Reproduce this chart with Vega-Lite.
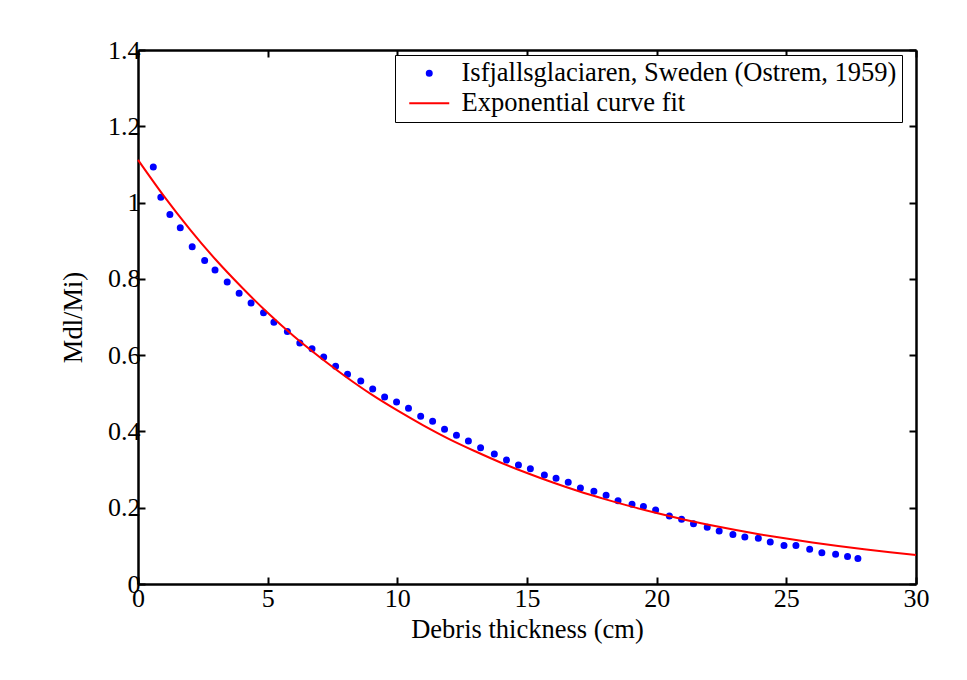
{
  "$schema": "https://vega.github.io/schema/vega-lite/v6.json",
  "autosize": "none",
  "width": 778,
  "height": 534,
  "padding": {"left": 138, "top": 50, "right": 51, "bottom": 96},
  "background": "white",
  "config": {
    "view": {"stroke": null},
    "font": "Liberation Serif",
    "style": {"guide-title": {"font": "Liberation Serif, Times New Roman, serif", "fontWeight": "normal"}, "guide-label": {"font": "Liberation Serif"}},
    "axis": {
      "labelFont": "Liberation Serif",
      "titleFont": "Liberation Serif, Times New Roman, serif",
      "labelFontSize": 26,
      "titleFontSize": 26.5,
      "titleFontWeight": "normal",
      "titleFontStyle": "normal",
      "labelColor": "black",
      "titleColor": "black",
      "domainColor": "black",
      "domainWidth": 2.5,
      "tickColor": "black",
      "tickWidth": 2,
      "tickSize": -7,
      "grid": false
    },
    "legend": {"labelFont": "Liberation Serif"}
  },
  "datasets": {
    "obs": [
      {"thickness": 0.59, "ratio": 1.093}, {"thickness": 0.88, "ratio": 1.014}, {"thickness": 1.23, "ratio": 0.969},
      {"thickness": 1.63, "ratio": 0.934}, {"thickness": 2.09, "ratio": 0.884}, {"thickness": 2.57, "ratio": 0.848},
      {"thickness": 2.97, "ratio": 0.823}, {"thickness": 3.44, "ratio": 0.792}, {"thickness": 3.90, "ratio": 0.762},
      {"thickness": 4.36, "ratio": 0.737}, {"thickness": 4.84, "ratio": 0.711}, {"thickness": 5.24, "ratio": 0.686},
      {"thickness": 5.76, "ratio": 0.662}, {"thickness": 6.24, "ratio": 0.632}, {"thickness": 6.71, "ratio": 0.617},
      {"thickness": 7.16, "ratio": 0.595}, {"thickness": 7.62, "ratio": 0.571}, {"thickness": 8.08, "ratio": 0.550},
      {"thickness": 8.59, "ratio": 0.532}, {"thickness": 9.05, "ratio": 0.511}, {"thickness": 9.51, "ratio": 0.490},
      {"thickness": 9.97, "ratio": 0.477}, {"thickness": 10.43, "ratio": 0.461}, {"thickness": 10.90, "ratio": 0.440},
      {"thickness": 11.36, "ratio": 0.427}, {"thickness": 11.82, "ratio": 0.406}, {"thickness": 12.28, "ratio": 0.390},
      {"thickness": 12.74, "ratio": 0.375}, {"thickness": 13.21, "ratio": 0.357}, {"thickness": 13.74, "ratio": 0.341},
      {"thickness": 14.21, "ratio": 0.325}, {"thickness": 14.67, "ratio": 0.312}, {"thickness": 15.13, "ratio": 0.302},
      {"thickness": 15.67, "ratio": 0.286}, {"thickness": 16.12, "ratio": 0.277}, {"thickness": 16.59, "ratio": 0.267},
      {"thickness": 17.06, "ratio": 0.252}, {"thickness": 17.58, "ratio": 0.243}, {"thickness": 18.05, "ratio": 0.233},
      {"thickness": 18.51, "ratio": 0.218}, {"thickness": 19.05, "ratio": 0.209}, {"thickness": 19.49, "ratio": 0.203},
      {"thickness": 19.96, "ratio": 0.194}, {"thickness": 20.49, "ratio": 0.178}, {"thickness": 20.96, "ratio": 0.170},
      {"thickness": 21.42, "ratio": 0.158}, {"thickness": 21.95, "ratio": 0.149}, {"thickness": 22.41, "ratio": 0.139},
      {"thickness": 22.94, "ratio": 0.130}, {"thickness": 23.40, "ratio": 0.123}, {"thickness": 23.92, "ratio": 0.120},
      {"thickness": 24.38, "ratio": 0.110}, {"thickness": 24.91, "ratio": 0.101}, {"thickness": 25.37, "ratio": 0.101},
      {"thickness": 25.90, "ratio": 0.091}, {"thickness": 26.37, "ratio": 0.082}, {"thickness": 26.90, "ratio": 0.078},
      {"thickness": 27.36, "ratio": 0.072}, {"thickness": 27.76, "ratio": 0.067}
    ],
    "fit": [
      {"thickness": 0, "ratio": 1.112}, {"thickness": 1, "ratio": 1.017}, {"thickness": 2, "ratio": 0.930},
      {"thickness": 3, "ratio": 0.850}, {"thickness": 4, "ratio": 0.778}, {"thickness": 5, "ratio": 0.711},
      {"thickness": 6, "ratio": 0.650}, {"thickness": 7, "ratio": 0.595}, {"thickness": 8, "ratio": 0.544},
      {"thickness": 9, "ratio": 0.497}, {"thickness": 10, "ratio": 0.455}, {"thickness": 11, "ratio": 0.416},
      {"thickness": 12, "ratio": 0.380}, {"thickness": 13, "ratio": 0.348}, {"thickness": 14, "ratio": 0.318},
      {"thickness": 15, "ratio": 0.291}, {"thickness": 16, "ratio": 0.266}, {"thickness": 17, "ratio": 0.243},
      {"thickness": 18, "ratio": 0.2225}, {"thickness": 19, "ratio": 0.2035}, {"thickness": 20, "ratio": 0.186},
      {"thickness": 21, "ratio": 0.170}, {"thickness": 22, "ratio": 0.1556}, {"thickness": 23, "ratio": 0.1423},
      {"thickness": 24, "ratio": 0.130}, {"thickness": 25, "ratio": 0.119}, {"thickness": 26, "ratio": 0.1088},
      {"thickness": 27, "ratio": 0.0995}, {"thickness": 28, "ratio": 0.091}, {"thickness": 29, "ratio": 0.0832},
      {"thickness": 30, "ratio": 0.0761}
    ]
  },
  "resolve": {"axis": {"x": "independent", "y": "independent"}},
  "layer": [
    {
      "data": {"name": "obs"},
      "mark": {"type": "point", "filled": true, "size": 25, "strokeWidth": 2, "opacity": 1},
      "encoding": {
        "x": {
          "field": "thickness", "type": "quantitative",
          "scale": {"domain": [0, 30], "nice": false, "zero": false},
          "axis": {"orient": "bottom", "values": [0, 5, 10, 15, 20, 25, 30], "format": "~g", "labelPadding": 8, "title": "Debris thickness (cm)", "titleFont": "Liberation Serif, Times New Roman, serif", "titleFontWeight": "normal", "titlePadding": 5, "labelFlush": false}
        },
        "y": {
          "field": "ratio", "type": "quantitative",
          "scale": {"domain": [0, 1.4], "nice": false, "zero": false},
          "axis": {"orient": "left", "values": [0, 0.2, 0.4, 0.6, 0.8, 1, 1.2, 1.4], "format": "~g", "labelPadding": 5, "title": "Mdl/Mi)", "titleFont": "Liberation Serif, Times New Roman, serif", "titleFontWeight": "normal", "titlePadding": 20, "labelFlush": false}
        },
        "color": {
          "datum": "Isfjallsglaciaren, Sweden (Ostrem, 1959)",
          "type": "nominal",
          "scale": {"domain": ["Isfjallsglaciaren, Sweden (Ostrem, 1959)", "Exponential curve fit"], "range": ["#0000ff", "#ff0000"]},
          "legend": {
            "title": null,
            "orient": "none",
            "legendX": 257,
            "legendY": 5,
            "padding": 5,
            "strokeColor": "black",
            "fillColor": "white",
            "cornerRadius": 0,
            "labelFont": "Liberation Serif",
            "labelFontSize": 26.5,
            "labelColor": "black",
            "labelLimit": 0,
            "symbolSize": 25,
            "symbolStrokeWidth": 2,
            "symbolOpacity": 1,
            "symbolOffset": 16,
            "labelOffset": 19,
            "rowPadding": 3
          }
        },
        "stroke": {
          "datum": "Isfjallsglaciaren, Sweden (Ostrem, 1959)",
          "type": "nominal",
          "scale": {"domain": ["Isfjallsglaciaren, Sweden (Ostrem, 1959)", "Exponential curve fit"], "range": ["#0000ff", "#ff0000"]},
          "legend": {"title": null}
        },
        "shape": {
          "datum": "Isfjallsglaciaren, Sweden (Ostrem, 1959)",
          "type": "nominal",
          "scale": {"domain": ["Isfjallsglaciaren, Sweden (Ostrem, 1959)", "Exponential curve fit"], "range": ["circle", "M-8,0H8"]},
          "legend": {"title": null}
        }
      }
    },
    {
      "data": {"name": "fit"},
      "mark": {"type": "line", "strokeWidth": 2, "interpolate": "monotone", "color": "#ff0000"},
      "encoding": {
        "x": {
          "field": "thickness", "type": "quantitative",
          "axis": {"orient": "top", "values": [0, 5, 10, 15, 20, 25, 30], "labels": false, "title": null}
        },
        "y": {
          "field": "ratio", "type": "quantitative",
          "axis": {"orient": "right", "values": [0, 0.2, 0.4, 0.6, 0.8, 1, 1.2, 1.4], "labels": false, "title": null}
        }
      }
    }
  ]
}
